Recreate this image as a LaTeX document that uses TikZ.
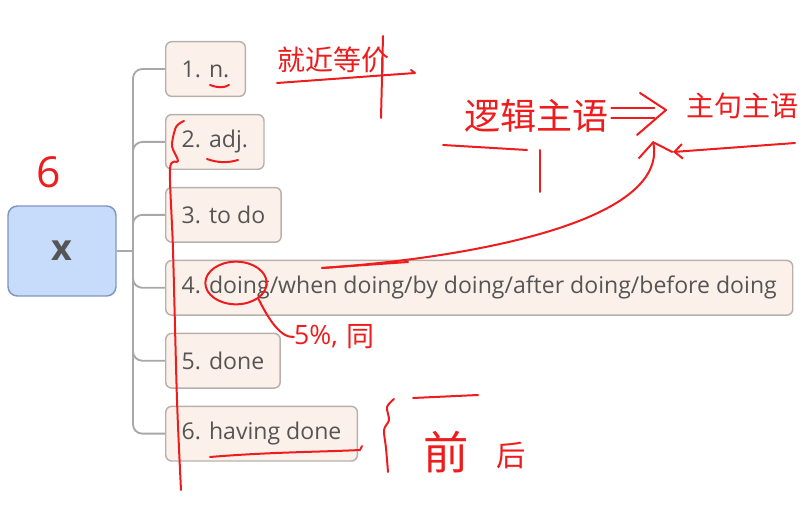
\documentclass[tikz,border=0pt]{standalone}
\usepackage{fontspec}
\setmainfont{Open Sans}
\newfontfamily\cjk{Noto Sans CJK SC}
\usetikzlibrary{positioning, arrows.meta, shapes.geometric}
\definecolor{boxfill}{HTML}{FCF1EA}
\definecolor{boxline}{HTML}{B7B1AE}
\definecolor{branchgray}{HTML}{A8A8A8}
\definecolor{labelgray}{HTML}{555555}
\definecolor{rootfill}{HTML}{C7DBFA}
\definecolor{rootline}{HTML}{7F97C2}
\definecolor{inkred}{HTML}{EE1C1C}
\tikzset{
    rootbox/.style={draw=rootline, fill=rootfill, line width=1.1pt, rounded corners=7pt,
        minimum width=81pt, minimum height=67.5pt, text=labelgray,
        font=\fontsize{27}{28}\selectfont\bfseries}, % the central topic
    itembox/.style={draw=boxline, fill=boxfill, line width=1.1pt, rounded corners=4.5pt,
        minimum height=41pt, inner xsep=12pt, text=labelgray, anchor=west,
        font=\fontsize{17.3}{19}\selectfont}, % one branch of the map
    branch/.style={draw=branchgray, line width=1.4pt, rounded corners=7pt},
    ink/.style={draw=inkred, line width=1.5pt, line cap=round, line join=round}, % pen strokes
    inktext/.style={text=inkred, inner sep=0pt},
}
\begin{document}
\begin{tikzpicture}[x=0.75pt, y=-0.75pt]
    \useasboundingbox (0,0) rectangle (807,513);
    % mind map
    \node[rootbox] (root) at (62,251) {x};
    \node[itembox] (i1) at (165,69) {1. n.};
    \node[itembox, below=12.6pt of i1.south west, anchor=north west] (i2) {2. adj.};
    \node[itembox, below=12.6pt of i2.south west, anchor=north west] (i3) {3. to do};
    \node[itembox, below=12.6pt of i3.south west, anchor=north west] (i4) {4. doing/when doing/by doing/after doing/before doing};
    \node[itembox, below=12.6pt of i4.south west, anchor=north west] (i5) {5. done};
    \node[itembox, below=12.6pt of i5.south west, anchor=north west] (i6) {6. having done};
    \coordinate (trunk) at (133,251);
    \draw[branch] (root.east) -- (trunk);
    \foreach \b in {i1,i2,i3,i4,i5,i6}
        \draw[branch] (trunk) |- (\b.west);

    % handwritten notes
    \node[inktext, font=\fontsize{32}{32}\selectfont] (six) at (49,172) {6};
    \node[inktext, font=\cjk\fontsize{21}{21}\selectfont] (note1) at (333,60) {就近等价};
    \draw[ink] (277,83) -- (415,73) -- (411,70);
    \draw[ink] (383,36) -- (381,118);
    \draw[ink] (210,85) .. controls (218,88) and (224,88) .. (229,85);
    \draw[ink] (207,159) .. controls (218,163) and (228,163) .. (238,160);
    \draw[ink] plot[smooth] coordinates {(184,121) (176,127) (172,146) (178,161) (170,169) (173,250) (177,400) (181,490)};

    \node[inktext, font=\cjk\fontsize{27}{27}\selectfont] (logic) at (536,116) {逻辑主语};
    \node[inktext, font=\cjk\fontsize{21}{21}\selectfont] (mainsubj) at (742,106) {主句主语};
    \coordinate (tip) at (666,110);
    \draw[ink] (logic.east) ++(3,-8) -- ++(43,0);
    \draw[ink] (logic.east) ++(3,2) -- ++(43,0);
    \draw[ink] (640,93) -- (tip) -- (637,135);
    \draw[ink] (443,145) -- (527,150);
    \draw[ink] (540,150) -- (540,192);
    \draw[ink, -{Straight Barb[length=6pt, width=11pt]}] (795,143) -- (673,152);

    \node[ellipse, ink, minimum width=46pt, minimum height=32pt] (circ) at (236,283) {};
    \node[inktext, font=\fontsize{20}{20}\selectfont] (five) at (316,337) {5\%,};
    \node[inktext, font=\cjk\fontsize{21}{21}\selectfont] (same) at (360,337) {同};
    \draw[ink] (circ.south east) .. controls (268,318) and (280,338) .. (five.west);
    \coordinate (curvestart) at (322,268);
    \coordinate (curveend) at (653,141);
    \draw[ink] (curvestart) -- (408,262);
    \draw[ink, -{Straight Barb[length=10pt, width=26pt]}] (curvestart) .. controls (470,258) and (668,222) .. (curveend);

    \draw[ink] (210,457) .. controls (270,452) and (320,452) .. (360,450) -- (362,446);
    \draw[ink] plot[smooth] coordinates {(394,399) (387,407) (389,420) (384,430) (386,448) (388,472)};
    \draw[ink] (413,398) -- (478,395);
    \node[inktext, font=\cjk\fontsize{34}{34}\selectfont] (before) at (446,452) {前};
    \node[inktext, font=\cjk\fontsize{22}{22}\selectfont] (after) at (511,455) {后};
\end{tikzpicture}
\end{document}
